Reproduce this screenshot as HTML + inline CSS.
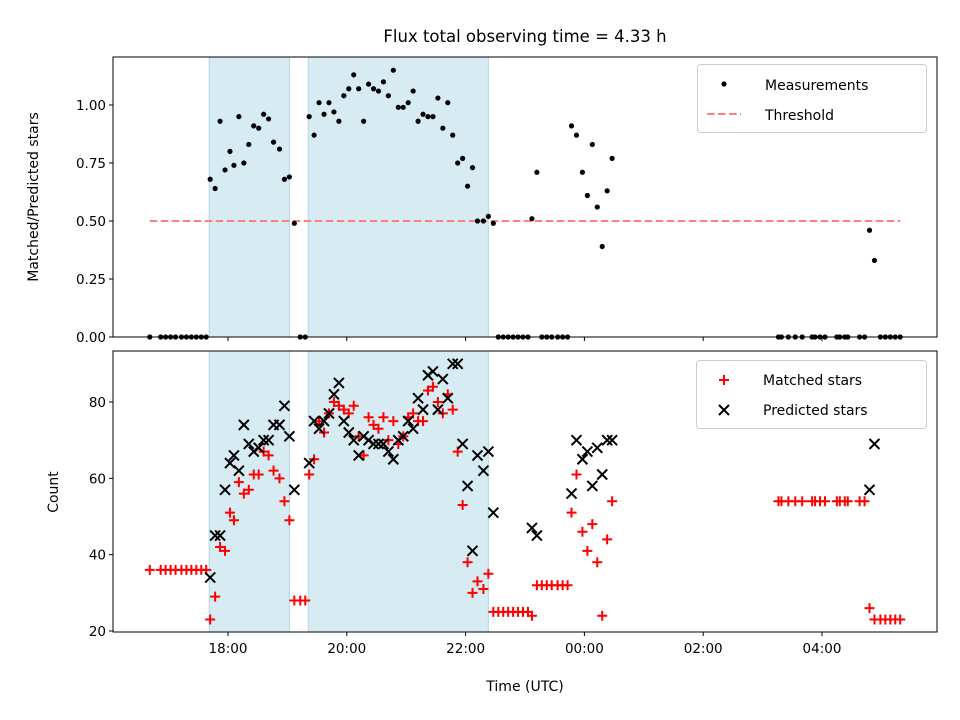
<!DOCTYPE html>
<html><head><meta charset="utf-8"><style>
html,body{margin:0;padding:0;background:#fff;}
svg{display:block;font-family:"DejaVu Sans","Liberation Sans",sans-serif;}
</style></head><body>
<svg id="c" width="960" height="720" viewBox="0 0 960 720" xmlns="http://www.w3.org/2000/svg"></svg>
<script>
// minutes since 18:00 UTC
const times = [-79,-68,-63,-58,-53,-47,-42,-37,-32,-27,-22,
-18,-13,-8,-3,2,6,11,16,21,26,31,36,41,46,52,57,62,67,73,78,
82,87,92,97,102,107,112,117,122,127,132,137,142,147,152,157,162,167,172,177,182,187,192,197,202,207,212,217,222,227,232,237,242,247,252,258,263,268,
273,278,283,288,293,298,303,307,312,317,322,327,333,338,343,
347,352,358,363,368,373,378,383,388,
556,559,566,573,580,590,593,598,603,615,618,623,626,638,643,648,653,659,664,669,674,679];
const ratio = [0,0,0,0,0,0,0,0,0,0,0,
.68,.64,.93,.72,.80,.74,.95,.75,.83,.91,.90,.96,.94,.84,.81,.68,.69,.49,0,0,
.95,.87,1.01,.96,1.01,.97,.93,1.04,1.07,1.13,1.07,.93,1.09,1.07,1.06,1.10,1.04,1.15,.99,.99,1.01,1.06,.93,.96,.95,.95,1.03,.90,1.01,.87,.75,.77,.65,.73,.50,.50,.52,.49,
0,0,0,0,0,0,0,.51,.71,0,0,0,0,0,0,
.91,.87,.71,.61,.83,.56,.39,.63,.77,
0,0,0,0,0,0,0,0,0,0,0,0,0,0,0,.46,.33,0,0,0,0,0];
const matched = [36,36,36,36,36,36,36,36,36,36,36,
23,29,42,41,51,49,59,56,57,61,61,67,66,62,60,54,49,28,28,28,
61,65,75,72,77,80,79,78,77,79,71,66,76,74,73,76,70,75,69,71,76,77,75,75,83,84,80,77,82,78,67,53,38,30,33,31,35,25,
25,25,25,25,25,25,25,24,32,32,32,32,32,32,32,
51,61,46,41,48,38,24,44,54,
54,54,54,54,54,54,54,54,54,54,54,54,54,54,54,26,23,23,23,23,23,23];
const predicted = [null,null,null,null,null,null,null,null,null,null,null,
34,45,45,57,64,66,62,74,69,67,68,70,70,74,74,79,71,57,null,null,
64,75,73,75,77,82,85,75,72,70,66,71,70,69,69,69,67,65,70,71,75,73,81,78,87,88,78,86,81,90,90,69,58,41,66,62,67,51,
null,null,null,null,null,null,null,47,45,null,null,null,null,null,null,
56,70,65,67,58,68,61,70,70,
null,null,null,null,null,null,null,null,null,null,null,null,null,null,null,57,69,null,null,null,null,null];
const xTicks = [0,120,240,360,480,600];
const xTickLabels = ["18:00","20:00","22:00","00:00","02:00","04:00"];
const yTopTicks = [0,0.25,0.5,0.75,1.0];
const yTopLabels = ["0.00","0.25","0.50","0.75","1.00"];
const yBotTicks = [20,40,60,80];
const bands = [[-19,62],[81,263]];
const threshold = 0.5;
const threshRange = [-79,679];

const svg = document.getElementById('c');
const NS = 'http://www.w3.org/2000/svg';
function mk(tag, attrs, parent){const e=document.createElementNS(NS,tag);for(const k in attrs)e.setAttribute(k,attrs[k]);(parent||svg).appendChild(e);return e;}
const X0=113,X1=937;
const xs = t => 228 + t*0.99;
const T = {top:57,bot:337}, B = {top:351,bot:632};
const yT = v => 337 - v*232;
const yB = v => 631 - (v-20)*3.817;

function panel(P,name){
  const g = mk('g',{});
  
  
  bands.forEach(b=>{const r=mk('rect',{x:xs(b[0]),y:P.top,width:xs(b[1])-xs(b[0]),height:P.bot-P.top,fill:'#add8e6','fill-opacity':0.5,stroke:'#add8e6'},g);
    
    });
  return g;
}
function frame(P,g){
  const r=mk('rect',{x:X0,y:P.top,width:X1-X0,height:P.bot-P.top,fill:'none',stroke:'#000','stroke-width':1},g);
  
  
  xTicks.forEach(t=>mk('line',{x1:xs(t),x2:xs(t),y1:P.bot,y2:P.bot+4,stroke:'#000'},g));
}
// top
const gt = panel(T,'ratio-panel');
const th = mk('line',{x1:xs(threshRange[0]),x2:xs(threshRange[1]),y1:yT(threshold),y2:yT(threshold),stroke:'#ff7f7f','stroke-width':2,'stroke-dasharray':'7.5,3.5'},gt);


times.forEach((t,i)=>{const c=mk('circle',{cx:xs(t),cy:yT(ratio[i]),r:2.6,fill:'#000'},gt);
  
  });
frame(T,gt);
yTopTicks.forEach((v,i)=>{mk('line',{x1:X0-4,x2:X0,y1:yT(v),y2:yT(v),stroke:'#000'},gt);
  const tx=mk('text',{x:X0-7,y:yT(v)+5,'text-anchor':'end','font-size':13.5},gt);tx.textContent=yTopLabels[i];
  
  });
// bottom
const gb = panel(B,'count-panel');
times.forEach((t,i)=>{const x=xs(t),y=yB(matched[i]);
  const p=mk('path',{d:`M${x-5},${y}H${x+5}M${x},${y-5}V${y+5}`,stroke:'#f00','stroke-width':2},gb);
  
  });
times.forEach((t,i)=>{if(predicted[i]==null)return;const x=xs(t),y=yB(predicted[i]);
  const p=mk('path',{d:`M${x-5},${y-5}L${x+5},${y+5}M${x-5},${y+5}L${x+5},${y-5}`,stroke:'#000','stroke-width':2},gb);
  
  });
frame(B,gb);
yBotTicks.forEach(v=>{mk('line',{x1:X0-4,x2:X0,y1:yB(v),y2:yB(v),stroke:'#000'},gb);
  const tx=mk('text',{x:X0-7,y:yB(v)+5,'text-anchor':'end','font-size':13.5},gb);tx.textContent=v;
  
  });
xTicks.forEach((t,i)=>{const tx=mk('text',{x:xs(t),y:B.bot+21,'text-anchor':'middle','font-size':13.5},gb);tx.textContent=xTickLabels[i];
  
  });
</script>
<svg style="position:absolute;left:0;top:0" width="960" height="720" xmlns="http://www.w3.org/2000/svg" font-family="DejaVu Sans, Liberation Sans, sans-serif">
  <text x="525" y="42" text-anchor="middle" font-size="16.5">Flux total observing time = 4.33 h</text>
  <text transform="translate(38,197) rotate(-90)" text-anchor="middle" font-size="14">Matched/Predicted stars</text>
  <text transform="translate(58,492) rotate(-90)" text-anchor="middle" font-size="14">Count</text>
  <text x="525" y="691" text-anchor="middle" font-size="14">Time (UTC)</text>
  <g>
    <rect x="697.5" y="64.5" width="229" height="68" rx="3" fill="#fff" fill-opacity="0.8" stroke="#ccc"/>
    <circle cx="724" cy="84" r="2.6" fill="#000"/>
    <text x="765" y="90" font-size="14">Measurements</text>
    <line x1="707" x2="741" y1="114" y2="114" stroke="#ff7f7f" stroke-width="2" stroke-dasharray="7.5,3.5"/>
    <text x="765" y="120" font-size="14">Threshold</text>
  </g>
  <g>
    <rect x="696.5" y="360.5" width="230" height="68" rx="3" fill="#fff" fill-opacity="0.8" stroke="#ccc"/>
    <path d="M719,380H729M724,375V385" stroke="#f00" stroke-width="2"/>
    <text x="763" y="385" font-size="14">Matched stars</text>
    <path d="M719,405L729,415M719,415L729,405" stroke="#000" stroke-width="2"/>
    <text x="763" y="415" font-size="14">Predicted stars</text>
  </g>
</svg>
</body></html>
